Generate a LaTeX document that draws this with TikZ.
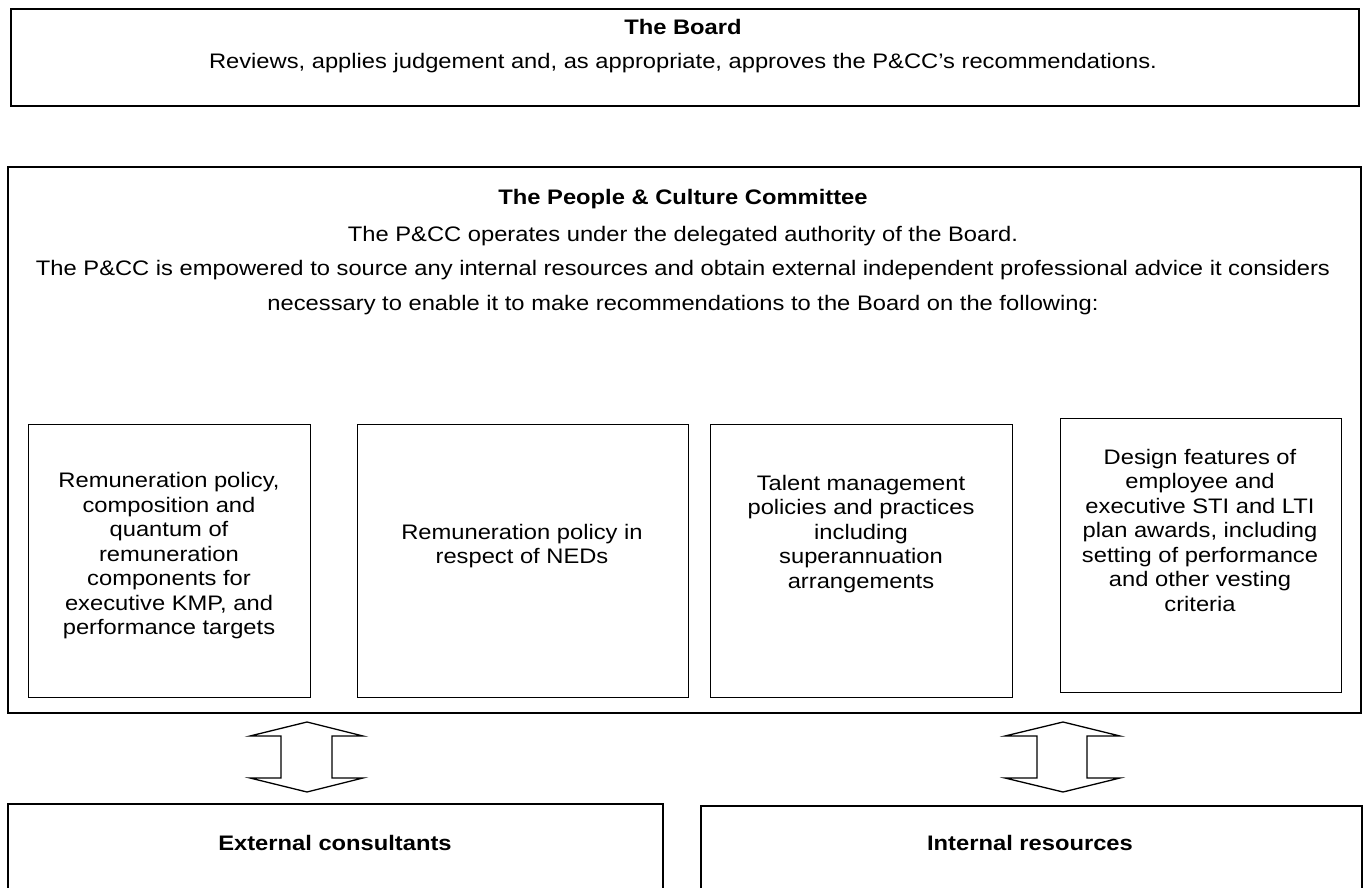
\documentclass[tikz,border=0pt]{standalone}
\usepackage{fontspec}
\setmainfont{Liberation Sans}[FakeStretch=1.13]
\begin{document}
\begin{tikzpicture}[x=1pt,y=-1pt,
  outerbox/.style={draw, line width=1.6pt, inner sep=0pt, anchor=north west},
  innerbox/.style={draw, line width=1.3pt, inner sep=0pt, anchor=north west},
  txt/.style={inner sep=0pt, font=\fontsize{21}{24.5}\selectfont, align=center},
  btxt/.style={txt, font=\fontsize{21}{24.5}\selectfont\bfseries},
  blockarrow/.style={draw, line width=1.3pt, fill=white, line join=miter}]
\useasboundingbox (0,0) rectangle (1363,888);
\clip (0,0) rectangle (1363,888);
% The Board
\node[outerbox, minimum width=1348pt, minimum height=97pt] (board) at (10,8) {};
\node[btxt] (boardt) at (683,27) {The Board};
\node[txt] (boards) at (683,63) {Reviews, applies judgement and, as appropriate, approves the P\&CC’s recommendations.};
% P&CC
\node[outerbox, minimum width=1353pt, minimum height=546pt] (pcc) at (7,166) {};
\node[btxt] (pcct) at (683,199) {The People \& Culture Committee};
\node[txt] (pcc1) at (683,236) {The P\&CC operates under the delegated authority of the Board.};
\node[txt] (pcc2) at (683,270) {The P\&CC is empowered to source any internal resources and obtain external independent professional advice it considers};
\node[txt] (pcc3) at (683,305) {necessary to enable it to make recommendations to the Board on the following:};
% inner boxes
\node[innerbox, minimum width=282pt, minimum height=273pt] (b1) at (28,424) {};
\node[txt] (b1t) at (169,556) {Remuneration policy,\\composition and\\quantum of\\remuneration\\components for\\executive KMP, and\\performance targets};
\node[innerbox, minimum width=331pt, minimum height=273pt] (b2) at (357,424) {};
\node[txt] (b2t) at (522,546) {Remuneration policy in\\respect of NEDs};
\node[innerbox, minimum width=302pt, minimum height=273pt] (b3) at (710,424) {};
\node[txt] (b3t) at (861,534) {Talent management\\policies and practices\\including\\superannuation\\arrangements};
\node[innerbox, minimum width=281pt, minimum height=274pt] (b4) at (1060,418) {};
\node[txt] (b4t) at (1200,530) {Design features of\\employee and\\executive STI and LTI\\plan awards, including\\setting of performance\\and other vesting\\criteria};
% bottom boxes
\node[outerbox, minimum width=655pt, minimum height=140pt] (ext) at (7,803) {};
\node[btxt] (extt) at (335,843) {External consultants};
\node[outerbox, minimum width=661pt, minimum height=140pt] (int) at (700,805) {};
\node[btxt] (intt) at (1030,843) {Internal resources};
% block double arrows
\draw[blockarrow] (307,722) -- (363,736) -- (332,736) -- (332,778) -- (363,778) -- (307,792)
  -- (250,778) -- (281,778) -- (281,736) -- (250,736) -- cycle;
\draw[blockarrow] (1063,722) -- (1120,736) -- (1087,736) -- (1087,778) -- (1120,778) -- (1063,792)
  -- (1005,778) -- (1037,778) -- (1037,736) -- (1005,736) -- cycle;
\end{tikzpicture}
\end{document}
